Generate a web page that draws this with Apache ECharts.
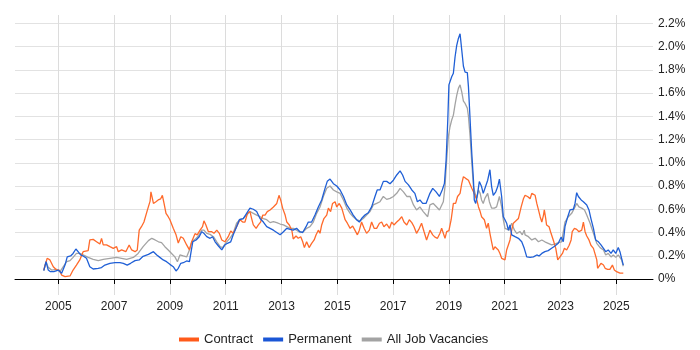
<!DOCTYPE html>
<html><head><meta charset="utf-8">
<script src="https://cdn.jsdelivr.net/npm/echarts@6/dist/echarts.min.js"></script>
<style>html,body{margin:0;padding:0;background:#fff}#c{width:700px;height:350px}</style>
</head><body><div id="c"></div>
<script>
// [decimal year, % of vacancies]
const contract = [[2004.48,0.077],[2004.60,0.178],[2004.70,0.164],[2004.82,0.106],[2004.94,0.077],[2005.03,0.077],[2005.12,0.034],[2005.24,0.02],[2005.42,0.026],[2005.53,0.077],[2005.65,0.12],[2005.77,0.164],[2005.89,0.235],[2006.07,0.244],[2006.13,0.336],[2006.25,0.341],[2006.37,0.321],[2006.49,0.301],[2006.55,0.35],[2006.61,0.293],[2006.73,0.293],[2006.85,0.278],[2006.97,0.264],[2007.09,0.278],[2007.15,0.235],[2007.27,0.25],[2007.42,0.235],[2007.54,0.293],[2007.63,0.25],[2007.75,0.235],[2007.83,0.25],[2007.90,0.42],[2007.98,0.45],[2008.07,0.49],[2008.19,0.59],[2008.29,0.67],[2008.32,0.75],[2008.41,0.65],[2008.50,0.665],[2008.58,0.68],[2008.67,0.69],[2008.73,0.72],[2008.79,0.65],[2008.86,0.565],[2008.94,0.536],[2009.00,0.51],[2009.12,0.436],[2009.22,0.38],[2009.30,0.31],[2009.39,0.364],[2009.48,0.35],[2009.60,0.293],[2009.70,0.25],[2009.78,0.32],[2009.90,0.39],[2009.98,0.38],[2010.08,0.42],[2010.17,0.45],[2010.22,0.50],[2010.29,0.465],[2010.38,0.407],[2010.50,0.407],[2010.58,0.393],[2010.68,0.42],[2010.77,0.393],[2010.86,0.336],[2010.97,0.32],[2011.09,0.364],[2011.18,0.413],[2011.27,0.393],[2011.39,0.45],[2011.51,0.51],[2011.61,0.49],[2011.69,0.49],[2011.78,0.565],[2011.87,0.58],[2011.93,0.52],[2011.99,0.465],[2012.09,0.436],[2012.17,0.465],[2012.25,0.49],[2012.33,0.55],[2012.41,0.55],[2012.49,0.58],[2012.59,0.594],[2012.71,0.62],[2012.83,0.65],[2012.91,0.72],[2012.97,0.68],[2013.04,0.61],[2013.13,0.55],[2013.19,0.49],[2013.28,0.465],[2013.37,0.42],[2013.42,0.344],[2013.52,0.37],[2013.60,0.35],[2013.69,0.364],[2013.76,0.32],[2013.82,0.27],[2013.90,0.32],[2013.99,0.27],[2014.08,0.307],[2014.17,0.336],[2014.24,0.38],[2014.32,0.42],[2014.38,0.393],[2014.44,0.465],[2014.52,0.52],[2014.62,0.55],[2014.68,0.61],[2014.76,0.58],[2014.83,0.65],[2014.92,0.665],[2014.98,0.62],[2015.07,0.65],[2015.16,0.61],[2015.28,0.51],[2015.36,0.48],[2015.46,0.436],[2015.55,0.456],[2015.63,0.42],[2015.72,0.38],[2015.79,0.42],[2015.87,0.49],[2015.96,0.436],[2016.05,0.393],[2016.15,0.42],[2016.23,0.49],[2016.32,0.436],[2016.41,0.436],[2016.51,0.48],[2016.59,0.49],[2016.67,0.45],[2016.77,0.473],[2016.87,0.436],[2016.95,0.49],[2017.03,0.465],[2017.13,0.49],[2017.22,0.51],[2017.31,0.536],[2017.39,0.49],[2017.49,0.465],[2017.58,0.51],[2017.67,0.485],[2017.75,0.45],[2017.84,0.393],[2017.94,0.436],[2018.02,0.48],[2018.11,0.407],[2018.20,0.336],[2018.26,0.32],[2018.32,0.42],[2018.42,0.38],[2018.50,0.36],[2018.59,0.35],[2018.68,0.393],[2018.74,0.436],[2018.80,0.393],[2018.86,0.35],[2018.92,0.407],[2019.00,0.416],[2019.08,0.51],[2019.16,0.65],[2019.24,0.65],[2019.31,0.71],[2019.40,0.737],[2019.46,0.82],[2019.52,0.88],[2019.60,0.866],[2019.70,0.85],[2019.76,0.84],[2019.82,0.78],[2019.88,0.75],[2019.94,0.737],[2020.00,0.68],[2020.06,0.62],[2020.12,0.58],[2020.17,0.536],[2020.27,0.51],[2020.35,0.436],[2020.41,0.48],[2020.47,0.393],[2020.53,0.32],[2020.59,0.25],[2020.65,0.278],[2020.71,0.264],[2020.77,0.25],[2020.83,0.22],[2020.89,0.178],[2020.95,0.164],[2021.01,0.164],[2021.07,0.25],[2021.13,0.25],[2021.19,0.336],[2021.25,0.42],[2021.31,0.48],[2021.37,0.49],[2021.49,0.52],[2021.59,0.62],[2021.67,0.69],[2021.73,0.72],[2021.82,0.71],[2021.91,0.69],[2021.97,0.737],[2022.03,0.75],[2022.09,0.72],[2022.15,0.65],[2022.21,0.594],[2022.27,0.536],[2022.33,0.49],[2022.39,0.55],[2022.42,0.594],[2022.47,0.52],[2022.50,0.465],[2022.59,0.45],[2022.66,0.393],[2022.74,0.336],[2022.83,0.264],[2022.90,0.164],[2022.98,0.19],[2023.07,0.22],[2023.14,0.264],[2023.22,0.25],[2023.31,0.29],[2023.38,0.336],[2023.42,0.407],[2023.50,0.436],[2023.58,0.427],[2023.66,0.407],[2023.76,0.42],[2023.82,0.49],[2023.88,0.407],[2023.94,0.37],[2024.02,0.336],[2024.09,0.29],[2024.18,0.264],[2024.24,0.25],[2024.30,0.164],[2024.33,0.092],[2024.38,0.092],[2024.45,0.135],[2024.54,0.12],[2024.60,0.092],[2024.69,0.083],[2024.77,0.083],[2024.86,0.12],[2024.93,0.077],[2025.01,0.063],[2025.13,0.05],[2025.25,0.05]];

const permanent = [[2004.48,0.072],[2004.56,0.149],[2004.64,0.077],[2004.72,0.063],[2004.84,0.063],[2005.00,0.077],[2005.12,0.049],[2005.24,0.12],[2005.32,0.19],[2005.44,0.198],[2005.53,0.22],[2005.63,0.258],[2005.71,0.235],[2005.80,0.207],[2005.89,0.198],[2006.01,0.178],[2006.13,0.106],[2006.25,0.086],[2006.43,0.092],[2006.55,0.098],[2006.67,0.12],[2006.85,0.135],[2007.03,0.14],[2007.21,0.14],[2007.33,0.135],[2007.47,0.12],[2007.59,0.135],[2007.75,0.158],[2007.90,0.164],[2008.04,0.195],[2008.23,0.212],[2008.41,0.235],[2008.53,0.207],[2008.64,0.186],[2008.76,0.164],[2008.88,0.149],[2009.00,0.126],[2009.12,0.106],[2009.22,0.069],[2009.30,0.092],[2009.39,0.135],[2009.48,0.14],[2009.60,0.155],[2009.70,0.149],[2009.76,0.235],[2009.82,0.32],[2009.94,0.336],[2010.05,0.364],[2010.14,0.407],[2010.22,0.393],[2010.32,0.364],[2010.44,0.35],[2010.53,0.364],[2010.62,0.32],[2010.74,0.284],[2010.86,0.25],[2010.97,0.293],[2011.06,0.307],[2011.18,0.32],[2011.27,0.38],[2011.39,0.45],[2011.49,0.51],[2011.63,0.52],[2011.75,0.565],[2011.87,0.61],[2011.99,0.60],[2012.11,0.58],[2012.23,0.52],[2012.35,0.49],[2012.47,0.45],[2012.59,0.436],[2012.71,0.42],[2012.83,0.40],[2012.95,0.38],[2013.07,0.407],[2013.19,0.436],[2013.31,0.427],[2013.42,0.42],[2013.54,0.436],[2013.66,0.407],[2013.76,0.40],[2013.88,0.45],[2013.96,0.49],[2014.08,0.49],[2014.20,0.55],[2014.32,0.62],[2014.44,0.68],[2014.56,0.78],[2014.64,0.84],[2014.74,0.86],[2014.86,0.82],[2014.98,0.80],[2015.10,0.766],[2015.22,0.71],[2015.34,0.637],[2015.46,0.594],[2015.57,0.55],[2015.69,0.51],[2015.79,0.49],[2015.87,0.52],[2015.99,0.55],[2016.11,0.57],[2016.23,0.62],[2016.35,0.71],[2016.43,0.766],[2016.53,0.766],[2016.65,0.84],[2016.77,0.84],[2016.89,0.82],[2017.01,0.85],[2017.13,0.895],[2017.25,0.93],[2017.34,0.895],[2017.43,0.84],[2017.55,0.81],[2017.67,0.766],[2017.78,0.737],[2017.87,0.665],[2017.96,0.68],[2018.06,0.65],[2018.18,0.65],[2018.24,0.637],[2018.32,0.737],[2018.42,0.78],[2018.54,0.75],[2018.66,0.71],[2018.76,0.766],[2018.84,0.823],[2018.90,1.024],[2018.96,1.368],[2019.00,1.67],[2019.10,1.74],[2019.16,1.77],[2019.22,1.91],[2019.28,2.01],[2019.34,2.07],[2019.40,2.11],[2019.46,1.97],[2019.52,1.83],[2019.58,1.78],[2019.66,1.776],[2019.70,1.655],[2019.76,1.368],[2019.82,1.08],[2019.88,0.85],[2019.91,0.68],[2019.96,0.65],[2020.03,0.737],[2020.09,0.838],[2020.17,0.795],[2020.23,0.737],[2020.29,0.75],[2020.39,0.85],[2020.47,0.94],[2020.53,0.795],[2020.59,0.72],[2020.68,0.75],[2020.75,0.795],[2020.81,0.86],[2020.89,0.71],[2020.95,0.536],[2021.01,0.51],[2021.07,0.48],[2021.13,0.42],[2021.19,0.465],[2021.25,0.38],[2021.37,0.364],[2021.49,0.35],[2021.61,0.32],[2021.70,0.264],[2021.79,0.19],[2021.91,0.186],[2022.03,0.19],[2022.15,0.207],[2022.23,0.198],[2022.33,0.22],[2022.44,0.235],[2022.56,0.244],[2022.68,0.264],[2022.80,0.284],[2022.92,0.307],[2023.02,0.36],[2023.10,0.32],[2023.16,0.45],[2023.26,0.536],[2023.34,0.594],[2023.46,0.60],[2023.52,0.65],[2023.58,0.743],[2023.64,0.71],[2023.74,0.68],[2023.82,0.665],[2023.94,0.637],[2024.02,0.594],[2024.09,0.52],[2024.18,0.436],[2024.26,0.336],[2024.36,0.32],[2024.45,0.293],[2024.54,0.264],[2024.62,0.235],[2024.71,0.25],[2024.81,0.22],[2024.89,0.25],[2024.98,0.22],[2025.07,0.27],[2025.13,0.235],[2025.19,0.178],[2025.25,0.12]];

const allJobs = [[2004.48,0.072],[2004.56,0.149],[2004.64,0.10],[2004.76,0.077],[2004.94,0.083],[2005.06,0.063],[2005.18,0.106],[2005.30,0.149],[2005.42,0.158],[2005.53,0.186],[2005.65,0.22],[2005.77,0.22],[2005.89,0.207],[2006.07,0.186],[2006.25,0.169],[2006.43,0.158],[2006.61,0.169],[2006.85,0.178],[2007.09,0.186],[2007.27,0.178],[2007.45,0.169],[2007.69,0.186],[2007.86,0.22],[2008.04,0.278],[2008.11,0.293],[2008.23,0.33],[2008.35,0.35],[2008.47,0.336],[2008.59,0.32],[2008.70,0.313],[2008.82,0.278],[2008.94,0.25],[2009.06,0.22],[2009.18,0.19],[2009.27,0.149],[2009.36,0.207],[2009.48,0.198],[2009.60,0.19],[2009.70,0.25],[2009.78,0.32],[2009.90,0.341],[2010.02,0.37],[2010.14,0.42],[2010.22,0.42],[2010.32,0.393],[2010.44,0.384],[2010.56,0.364],[2010.68,0.32],[2010.80,0.278],[2010.89,0.27],[2011.01,0.313],[2011.15,0.35],[2011.27,0.393],[2011.39,0.48],[2011.51,0.513],[2011.63,0.52],[2011.75,0.55],[2011.87,0.58],[2011.99,0.565],[2012.11,0.55],[2012.23,0.536],[2012.35,0.52],[2012.47,0.51],[2012.59,0.485],[2012.71,0.493],[2012.83,0.485],[2012.95,0.473],[2013.07,0.465],[2013.19,0.45],[2013.31,0.436],[2013.42,0.436],[2013.54,0.42],[2013.66,0.40],[2013.78,0.407],[2013.90,0.436],[2014.02,0.45],[2014.14,0.49],[2014.26,0.565],[2014.38,0.62],[2014.50,0.71],[2014.62,0.78],[2014.74,0.80],[2014.86,0.766],[2014.98,0.75],[2015.10,0.737],[2015.22,0.68],[2015.34,0.61],[2015.46,0.565],[2015.57,0.536],[2015.69,0.51],[2015.81,0.50],[2015.93,0.52],[2016.05,0.55],[2016.17,0.58],[2016.29,0.637],[2016.41,0.65],[2016.53,0.665],[2016.65,0.71],[2016.77,0.685],[2016.89,0.694],[2017.01,0.71],[2017.13,0.737],[2017.25,0.78],[2017.37,0.75],[2017.49,0.71],[2017.61,0.71],[2017.73,0.637],[2017.84,0.594],[2017.96,0.62],[2018.08,0.58],[2018.24,0.536],[2018.32,0.637],[2018.44,0.65],[2018.56,0.62],[2018.66,0.594],[2018.72,0.58],[2018.80,0.665],[2018.86,0.795],[2018.92,1.024],[2018.98,1.225],[2019.04,1.31],[2019.10,1.368],[2019.16,1.41],[2019.22,1.50],[2019.28,1.58],[2019.34,1.64],[2019.40,1.67],[2019.46,1.61],[2019.52,1.53],[2019.58,1.51],[2019.66,1.47],[2019.70,1.40],[2019.76,1.225],[2019.82,1.0],[2019.88,0.795],[2019.94,0.737],[2020.00,0.694],[2020.06,0.766],[2020.12,0.737],[2020.17,0.68],[2020.23,0.65],[2020.29,0.694],[2020.39,0.737],[2020.45,0.665],[2020.53,0.61],[2020.63,0.61],[2020.71,0.62],[2020.81,0.71],[2020.89,0.62],[2020.95,0.51],[2021.01,0.436],[2021.07,0.45],[2021.16,0.42],[2021.25,0.48],[2021.35,0.42],[2021.43,0.393],[2021.55,0.407],[2021.63,0.38],[2021.70,0.42],[2021.73,0.38],[2021.85,0.364],[2021.97,0.336],[2022.09,0.35],[2022.21,0.32],[2022.33,0.336],[2022.44,0.32],[2022.56,0.307],[2022.68,0.293],[2022.80,0.30],[2022.92,0.313],[2023.04,0.32],[2023.16,0.49],[2023.28,0.536],[2023.40,0.565],[2023.52,0.62],[2023.58,0.65],[2023.66,0.62],[2023.76,0.61],[2023.86,0.594],[2023.94,0.55],[2024.06,0.48],[2024.18,0.393],[2024.30,0.307],[2024.42,0.27],[2024.54,0.25],[2024.62,0.207],[2024.71,0.22],[2024.81,0.19],[2024.89,0.207],[2024.98,0.186],[2025.07,0.207],[2025.19,0.164],[2025.25,0.11]];

const yearTicks = [2005,2007,2009,2011,2013,2015,2017,2019,2021,2023,2025];
const pctTicks = [0,0.2,0.4,0.6,0.8,1.0,1.2,1.4,1.6,1.8,2.0,2.2];

const chart = echarts.init(document.getElementById('c'), null, {renderer: 'canvas'});
chart.setOption({
  animation: false,
  backgroundColor: '#fff',
  grid: {left: 15, right: 47, top: 15, bottom: 55, containLabel: false},
  legend: {
    data: ['Contract', 'Permanent', 'All Job Vacancies'],
    left: 174, top: 328, icon: 'rect', itemWidth: 20, itemHeight: 4, itemGap: 10,
    textStyle: {fontFamily: 'Liberation Sans, Arial, sans-serif', fontSize: 13, color: '#222'}
  },
  xAxis: {
    type: 'value', min: 2003.448, max: 2026.315,
    axisLine: {show: true, lineStyle: {color: '#000', width: 1}},
    axisTick: {show: true, length: 5, customValues: yearTicks, lineStyle: {color: '#000'}},
    axisLabel: {customValues: yearTicks, margin: 6, color: '#222', fontSize: 12,
      fontFamily: 'Liberation Sans, Arial, sans-serif', formatter: v => String(Math.round(v))},
    splitLine: {show: true, lineStyle: {color: '#dcdcdc', width: 1}}
  },
  yAxis: {
    type: 'value', position: 'right', min: -0.1377, max: 2.2714,
    axisLine: {show: false},
    axisTick: {show: false, customValues: pctTicks},
    axisLabel: {customValues: pctTicks, margin: 5, color: '#222', fontSize: 12,
      fontFamily: 'Liberation Sans, Arial, sans-serif',
      formatter: v => (Math.abs(v) < 1e-9 ? '0%' : v.toFixed(1) + '%')},
    splitLine: {show: true, lineStyle: {color: '#e2e2e2', width: 1}}
  },
  series: [
    {name: 'All Job Vacancies', type: 'line', data: allJobs, showSymbol: false, z: 2,
      lineStyle: {color: '#a3a3a3', width: 1.3}, itemStyle: {color: '#a3a3a3'}},
    {name: 'Contract', type: 'line', data: contract, showSymbol: false, z: 3,
      lineStyle: {color: '#ff6a2b', width: 1.3}, itemStyle: {color: '#ff5a1a'}},
    {name: 'Permanent', type: 'line', data: permanent, showSymbol: false, z: 4,
      lineStyle: {color: '#1f5fd6', width: 1.3}, itemStyle: {color: '#1a56d6'}}
  ]
});
</script></body></html>
